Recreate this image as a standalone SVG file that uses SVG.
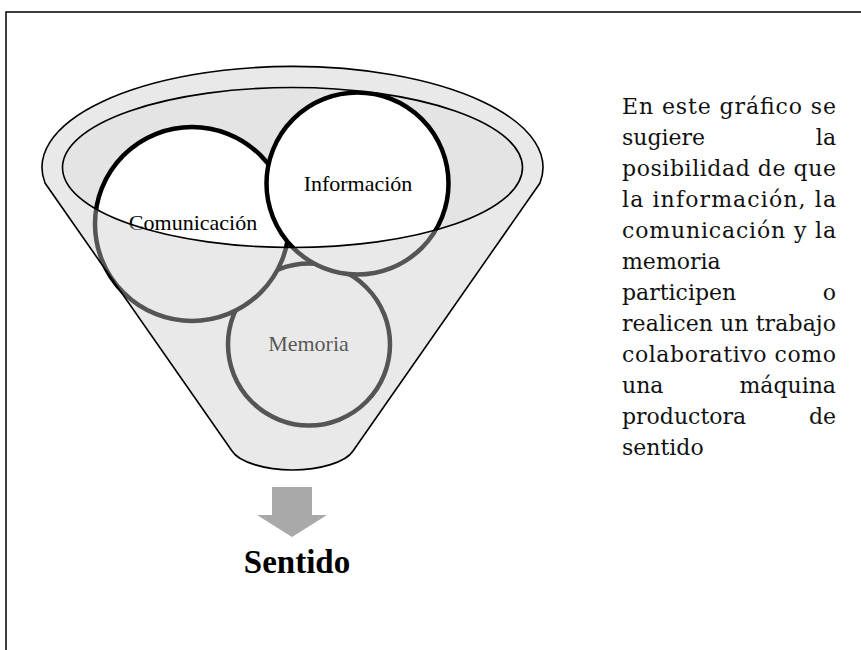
<svg xmlns="http://www.w3.org/2000/svg" width="861" height="650" viewBox="0 0 861 650">
  <style>
    .frame { fill: none; stroke: #000; stroke-width: 1.5; }
    .edge { fill: none; stroke: #000; stroke-width: 1.6; }
    .circ { fill: #fff; stroke: #000; stroke-width: 4.5; }
    .lbl { font-family: "Liberation Serif", "DejaVu Serif", serif; font-size: 22px; fill: #000; text-anchor: middle; }
    .para { font-family: "DejaVu Serif", "Liberation Serif", serif; font-size: 22px; fill: #111; }
    .end { text-anchor: end; }
    .title { font-family: "Liberation Serif", "DejaVu Serif", serif; font-size: 33px; font-weight: bold; fill: #000; text-anchor: middle; }
  </style>
  <defs>
    <path id="funnelShape" d="M 45,183 A 250.5 101 0 1 1 540,183 L 353,451 C 346,462 320,470 292.5,470 C 265,470 239,462 232,451 Z"/>
  </defs>
  <rect width="861" height="650" fill="#fff"/>
  <path class="frame" d="M 6,650 L 6,12 L 861,12"/>

  <g id="funnel">
    <use href="#funnelShape" fill="#fff"/>
    <ellipse cx="292.5" cy="167.5" rx="230" ry="80" fill="#e4e4e4"/>
  </g>

  <g id="memoria">
    <circle class="circ" cx="309" cy="344.5" r="81"/>
    <text class="lbl" x="308.5" y="351">Memoria</text>
  </g>
  <g id="comunicacion">
    <circle class="circ" cx="192" cy="224" r="97"/>
    <text class="lbl" x="193" y="230">Comunicación</text>
  </g>
  <g id="informacion">
    <circle class="circ" cx="357.5" cy="183.5" r="91"/>
    <text class="lbl" x="358" y="191">Información</text>
  </g>

  <g id="funnel-front">
    <path d="M 45,183 A 250.5 101 0 1 1 540,183 L 353,451 C 346,462 320,470 292.5,470 C 265,470 239,462 232,451 Z M 62.5,167.5 A 230 80 0 1 0 522.5,167.5 A 230 80 0 1 0 62.5,167.5 Z" fill="#cacaca" fill-opacity="0.42" fill-rule="evenodd"/>
    <ellipse class="edge" cx="292.5" cy="167.5" rx="230" ry="80"/>
    <use href="#funnelShape" class="edge"/>
  </g>

  <g id="connectors">
    <path d="M 272,487 L 312,487 L 312,515 L 327,515 L 292,537 L 257,515 L 272,515 Z" fill="#a9a9a9"/>
  </g>

  <g id="sentido">
    <text class="title" x="297" y="573">Sentido</text>
  </g>

  <g id="description">
    <text class="para" x="622" y="114" textLength="214" lengthAdjust="spacing">En este gráfico se</text>
    <text class="para" x="622" y="145">sugiere</text>
    <text class="para end" x="836" y="145">la</text>
    <text class="para" x="622" y="176" textLength="214" lengthAdjust="spacing">posibilidad de que</text>
    <text class="para" x="622" y="207" textLength="214" lengthAdjust="spacing">la información, la</text>
    <text class="para" x="622" y="238" textLength="214" lengthAdjust="spacing">comunicación y la</text>
    <text class="para" x="622" y="269">memoria</text>
    <text class="para" x="622" y="300">participen</text>
    <text class="para end" x="836" y="300">o</text>
    <text class="para" x="622" y="331" textLength="214" lengthAdjust="spacing">realicen un trabajo</text>
    <text class="para" x="622" y="362" textLength="214" lengthAdjust="spacing">colaborativo como</text>
    <text class="para" x="622" y="393">una</text>
    <text class="para end" x="836" y="393">máquina</text>
    <text class="para" x="622" y="424">productora</text>
    <text class="para end" x="836" y="424">de</text>
    <text class="para" x="622" y="455">sentido</text>
  </g>
</svg>
